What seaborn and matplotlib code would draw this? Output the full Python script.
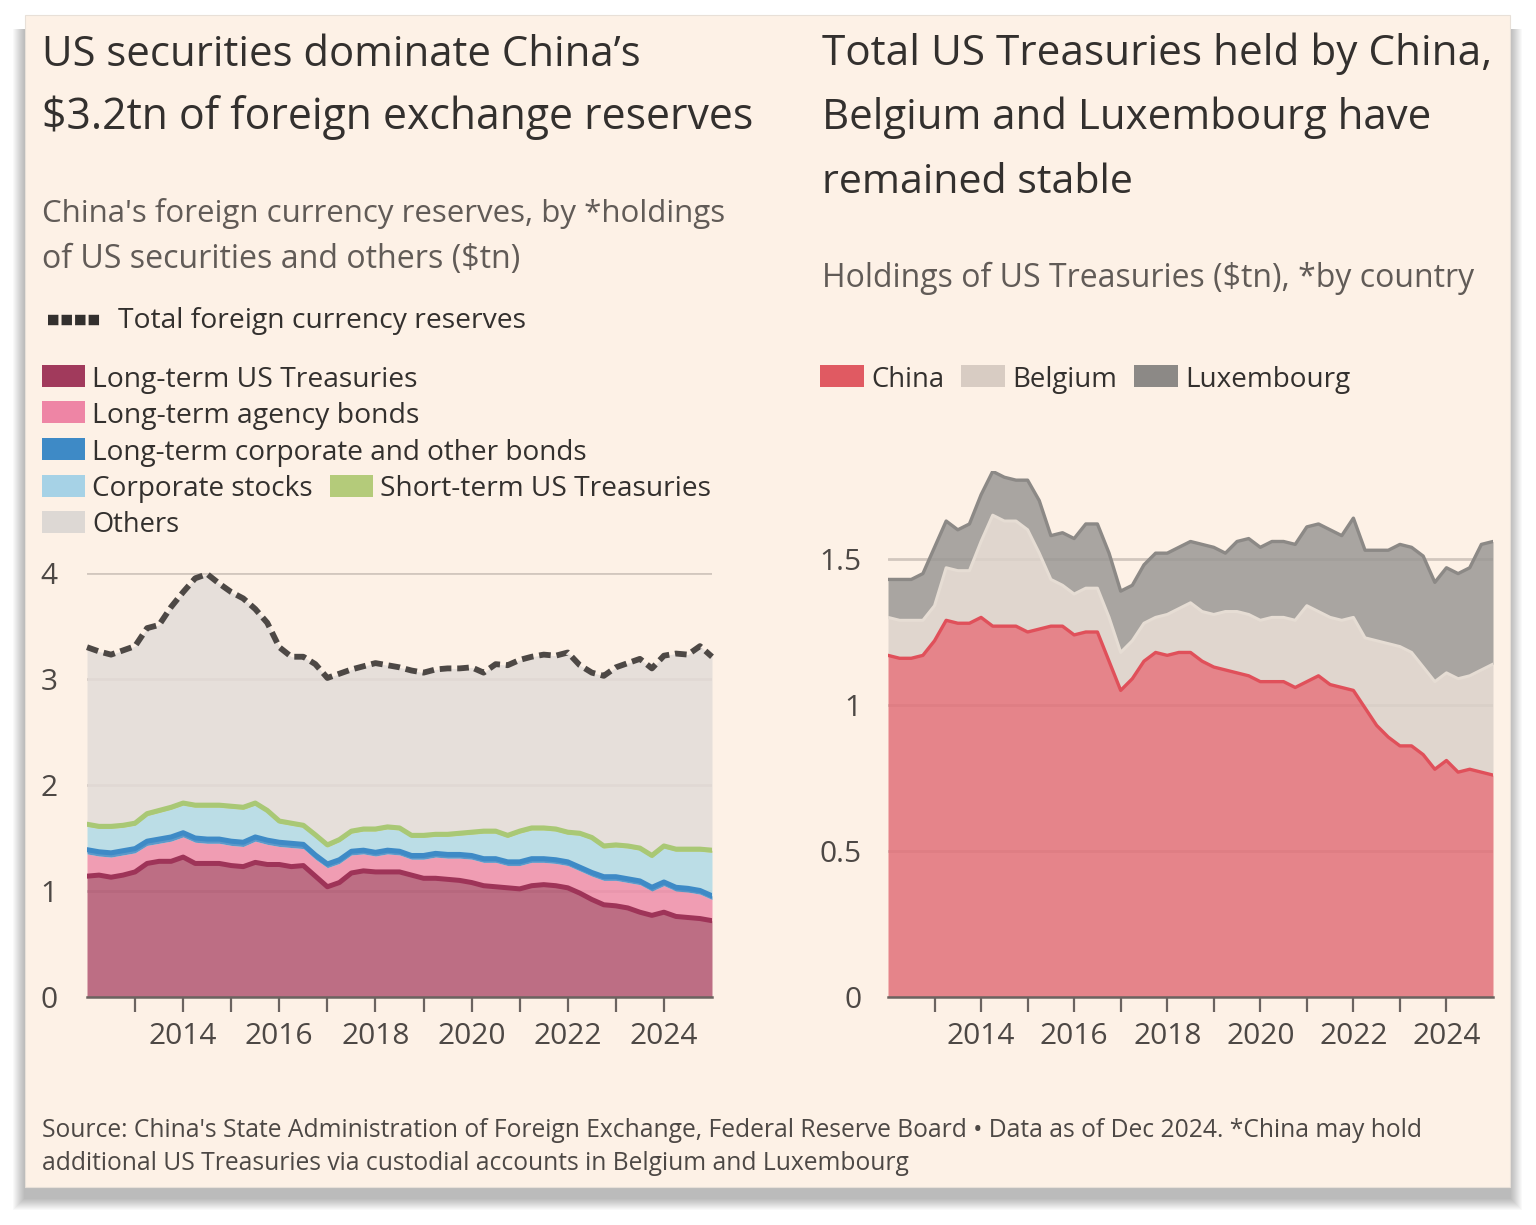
import numpy as np
import pandas as pd
import seaborn as sns
import matplotlib.pyplot as plt
from matplotlib.patches import Rectangle
from matplotlib.lines import Line2D

# quarterly time axis, decimal years
years = np.arange(2012, 2025.001, 0.25)

# left chart: China's FX reserves ($tn)
total_reserves = [3.30, 3.26, 3.23, 3.27, 3.31, 3.48, 3.51, 3.68, 3.82, 3.95, 3.99, 3.90,
                  3.82, 3.76, 3.66, 3.53, 3.30, 3.21, 3.21, 3.14, 3.01, 3.05, 3.09, 3.12,
                  3.15, 3.13, 3.11, 3.08, 3.06, 3.09, 3.10, 3.10, 3.11, 3.06, 3.14, 3.13,
                  3.18, 3.21, 3.23, 3.22, 3.25, 3.13, 3.06, 3.03, 3.11, 3.15, 3.19, 3.10,
                  3.22, 3.24, 3.23, 3.31, 3.21]
lt_treasuries = [1.14, 1.15, 1.13, 1.15, 1.18, 1.26, 1.28, 1.28, 1.32, 1.26, 1.26, 1.26,
                 1.24, 1.23, 1.27, 1.25, 1.25, 1.23, 1.24, 1.14, 1.04, 1.08, 1.17, 1.19,
                 1.18, 1.18, 1.18, 1.15, 1.12, 1.12, 1.11, 1.10, 1.08, 1.05, 1.04, 1.03,
                 1.02, 1.05, 1.06, 1.05, 1.03, 0.98, 0.92, 0.87, 0.86, 0.84, 0.80, 0.77,
                 0.80, 0.76, 0.75, 0.74, 0.72]
lt_agency = [0.21, 0.18, 0.19, 0.19, 0.18, 0.17, 0.17, 0.19, 0.19, 0.20, 0.19, 0.19,
             0.19, 0.19, 0.20, 0.19, 0.17, 0.18, 0.16, 0.16, 0.18, 0.18, 0.17, 0.16,
             0.15, 0.17, 0.16, 0.15, 0.18, 0.20, 0.20, 0.21, 0.22, 0.22, 0.23, 0.21,
             0.22, 0.22, 0.21, 0.21, 0.21, 0.21, 0.22, 0.23, 0.24, 0.24, 0.26, 0.23,
             0.25, 0.24, 0.24, 0.23, 0.20]
lt_corporate = [0.04, 0.04, 0.04, 0.04, 0.04, 0.04, 0.04, 0.04, 0.04, 0.04, 0.04, 0.04,
                0.04, 0.04, 0.04, 0.04, 0.04, 0.04, 0.04, 0.04, 0.035, 0.035, 0.035, 0.035,
                0.035, 0.035, 0.035, 0.035, 0.035, 0.035, 0.035, 0.035, 0.035, 0.035, 0.035, 0.035,
                0.035, 0.035, 0.035, 0.035, 0.035, 0.035, 0.035, 0.035, 0.035, 0.035, 0.035, 0.035,
                0.035, 0.035, 0.035, 0.035, 0.035]
corp_stocks = [0.22, 0.22, 0.23, 0.22, 0.22, 0.24, 0.25, 0.26, 0.26, 0.29, 0.30, 0.30,
               0.31, 0.31, 0.30, 0.26, 0.18, 0.17, 0.16, 0.17, 0.16, 0.17, 0.17, 0.18,
               0.20, 0.20, 0.20, 0.17, 0.17, 0.16, 0.17, 0.18, 0.20, 0.24, 0.24, 0.23,
               0.27, 0.27, 0.27, 0.27, 0.26, 0.30, 0.31, 0.27, 0.28, 0.29, 0.29, 0.28,
               0.32, 0.34, 0.35, 0.37, 0.41]
st_treasuries = [0.02, 0.02, 0.02, 0.02, 0.02, 0.02, 0.02, 0.02, 0.02, 0.02, 0.02, 0.02,
                 0.02, 0.02, 0.02, 0.02, 0.02, 0.02, 0.02, 0.02, 0.02, 0.02, 0.02, 0.02,
                 0.02, 0.02, 0.02, 0.02, 0.02, 0.02, 0.02, 0.02, 0.02, 0.02, 0.02, 0.02,
                 0.02, 0.02, 0.02, 0.02, 0.02, 0.02, 0.02, 0.02, 0.02, 0.02, 0.02, 0.02,
                 0.02, 0.02, 0.02, 0.02, 0.02]

# right chart: US Treasuries by country ($tn)
china = [1.17, 1.16, 1.16, 1.17, 1.22, 1.29, 1.28, 1.28, 1.30, 1.27, 1.27, 1.27,
         1.25, 1.26, 1.27, 1.27, 1.24, 1.25, 1.25, 1.15, 1.05, 1.09, 1.15, 1.18,
         1.17, 1.18, 1.18, 1.15, 1.13, 1.12, 1.11, 1.10, 1.08, 1.08, 1.08, 1.06,
         1.08, 1.10, 1.07, 1.06, 1.05, 0.99, 0.93, 0.89, 0.86, 0.86, 0.83, 0.78,
         0.81, 0.77, 0.78, 0.77, 0.76]
belgium = [0.13, 0.13, 0.13, 0.12, 0.12, 0.18, 0.18, 0.18, 0.26, 0.38, 0.36, 0.36,
           0.35, 0.26, 0.16, 0.14, 0.14, 0.15, 0.15, 0.15, 0.13, 0.13, 0.13, 0.12,
           0.14, 0.15, 0.17, 0.17, 0.18, 0.20, 0.21, 0.21, 0.21, 0.22, 0.22, 0.23,
           0.26, 0.22, 0.23, 0.23, 0.25, 0.24, 0.29, 0.32, 0.34, 0.32, 0.30, 0.30,
           0.30, 0.32, 0.32, 0.35, 0.38]
luxembourg = [0.13, 0.14, 0.14, 0.16, 0.20, 0.16, 0.14, 0.16, 0.16, 0.15, 0.15, 0.14,
              0.17, 0.18, 0.15, 0.18, 0.19, 0.22, 0.22, 0.22, 0.21, 0.19, 0.20, 0.22,
              0.21, 0.21, 0.21, 0.23, 0.23, 0.20, 0.24, 0.26, 0.25, 0.26, 0.26, 0.26,
              0.27, 0.30, 0.30, 0.29, 0.34, 0.30, 0.31, 0.32, 0.35, 0.36, 0.38, 0.34,
              0.36, 0.36, 0.37, 0.43, 0.42]

tick_years = list(range(2013, 2025))
label_years = ['', '2014', '', '2016', '', '2018', '', '2020', '', '2022', '', '2024']

W, H = 1536, 1225
BG = '#FDF1E6'
DARK = '#33302E'
GREY = '#615B57'

sns.set_theme(style='white')
plt.rcParams['font.family'] = ['Open Sans', 'DejaVu Sans']

fig = plt.figure(figsize=(W / 100, H / 100), dpi=100, facecolor='white')
renderer = fig.canvas.get_renderer()


def fx(x):
    return x / W


def fy(y):
    return 1 - y / H


# card with soft shadow, kept behind the axes
for i in range(12):
    fig.patches.append(Rectangle((fx(24 - i), fy(1187 + 12 + i)), fx(1487 + 2 * i), (1170 + i) / H,
                                 transform=fig.transFigure, facecolor='black', alpha=0.022,
                                 edgecolor='none', zorder=-3))
fig.patches.append(Rectangle((fx(25), fy(1187)), fx(1485), 1172 / H, transform=fig.transFigure,
                             facecolor=BG, edgecolor='#E8E0D8', lw=0.8, zorder=-2))


def ftext(x, y, s, width, color=DARK):
    # text placed by its left baseline, sized to the width it takes in the reference
    t = fig.text(fx(x), fy(y), s, fontsize=20, color=color, va='baseline', ha='left')
    w = t.get_window_extent(renderer).width
    t.set_fontsize(20 * width / w)
    return t


def patch(x, y, w, h, color):
    fig.patches.append(Rectangle((fx(x), fy(y + h)), w / W, h / H, transform=fig.transFigure,
                                 facecolor=color, edgecolor='none', zorder=2))


def style_axis(ax, ymax, yticks, ylabels, ypad):
    ax.set_facecolor('none')
    ax.set_xlim(2012, 2025)
    ax.set_ylim(0, ymax)
    ax.set_xticks(tick_years)
    ax.set_xticklabels(label_years)
    ax.set_yticks(yticks)
    ax.set_yticklabels(ylabels)
    ax.set_xlabel('')
    ax.set_ylabel('')
    ax.set_axisbelow(True)
    ax.yaxis.grid(True, color='#D2C7BE', lw=2.0)
    ax.xaxis.grid(False)
    for s in ['top', 'right', 'left']:
        ax.spines[s].set_visible(False)
    ax.spines['bottom'].set_color('#6B6360')
    ax.spines['bottom'].set_linewidth(1.8)
    ax.spines['bottom'].set_zorder(5)
    ax.tick_params(axis='x', length=11, width=1.6, color='#6B6360', labelsize=21.5,
                   labelcolor='#4D4845', pad=7, bottom=True)
    ax.tick_params(axis='y', length=0, labelsize=21.5, labelcolor='#4D4845', pad=ypad)


# ---------------- left chart ----------------
axl = fig.add_axes([fx(87), fy(997), (712 - 87) / W, (997 - 573) / H])
left_parts = [lt_treasuries, lt_agency, lt_corporate, corp_stocks, st_treasuries]
left_fill = ['#B25773', '#EE8EAA', '#3E8AC6', '#B0DAE6', '#A9C875']
cum = np.cumsum(np.array(left_parts), axis=0)
lower = np.zeros(len(years))
for top, col in zip(cum, left_fill):
    axl.fill_between(years, lower, top, color=col, alpha=0.85, lw=0, zorder=1)
    lower = top
axl.fill_between(years, cum[-1], total_reserves, color='#E3DCD8', alpha=0.85, lw=0, zorder=1)

left_df = pd.DataFrame({'year': years, 'ust': cum[0], 'corp': cum[2], 'st': cum[4],
                        'total': total_reserves})
sns.lineplot(data=left_df, x='year', y='ust', ax=axl, color='#9E3458', lw=3.6, zorder=3)
sns.lineplot(data=left_df, x='year', y='corp', ax=axl, color='#3E8AC6', lw=3.6, zorder=3)
sns.lineplot(data=left_df, x='year', y='st', ax=axl, color='#A9C875', lw=3.6, zorder=3)
sns.lineplot(data=left_df, x='year', y='total', ax=axl, color='#4D4845', lw=4.2, zorder=4,
             linestyle=(0, (2.0, 1.0)), clip_on=False)
style_axis(axl, 4, [0, 1, 2, 3, 4], ['0', '1', '2', '3', '4'], 21)

# ---------------- right chart ----------------
axr = fig.add_axes([fx(888), fy(997), (1493 - 888) / W, (997 - 471.4) / H])
right_parts = [china, belgium, luxembourg]
right_fill = ['#E1717A', '#DBD2CA', '#9A9895']
cum_r = np.cumsum(np.array(right_parts), axis=0)
lower = np.zeros(len(years))
for top, col in zip(cum_r, right_fill):
    axr.fill_between(years, lower, top, color=col, alpha=0.85, lw=0, zorder=1)
    lower = top

right_df = pd.DataFrame({'year': years, 'china': cum_r[0], 'belgium': cum_r[1],
                         'lux': cum_r[2]})
sns.lineplot(data=right_df, x='year', y='belgium', ax=axr, color='#E6DDD4', lw=2.2, zorder=3)
sns.lineplot(data=right_df, x='year', y='lux', ax=axr, color='#8C8986', lw=2.4, zorder=3)
sns.lineplot(data=right_df, x='year', y='china', ax=axr, color='#E0505A', lw=2.4, zorder=3)
style_axis(axr, 1.8, [0, 0.5, 1, 1.5], ['0', '0.5', '1', '1.5'], 19)

# ---------------- texts ----------------
ftext(42, 66, 'US securities dominate China\u2019s', 597)
ftext(42, 129, '$3.2tn of foreign exchange reserves', 709)
ftext(42, 222, "China's foreign currency reserves, by *holdings", 683, GREY)
ftext(42, 268, "of US securities and others ($tn)", 478, GREY)

fig.add_artist(Line2D([fx(48), fx(100)], [fy(320), fy(320)], color='#33302E', lw=7.5,
                      linestyle=(0, (1.0, 0.3)), transform=fig.transFigure))
ftext(118, 328, 'Total foreign currency reserves', 407)

left_legend = [
    (42, 365, '#A13A5C', 'Long-term US Treasuries', 325),
    (42, 401.5, '#EE85A5', 'Long-term agency bonds', 327),
    (42, 438, '#3E8AC6', 'Long-term corporate and other bonds', 495),
    (42, 474.5, '#A6D2E6', 'Corporate stocks', 220),
    (330, 474.5, '#B4CB7A', 'Short-term US Treasuries', 330),
    (42, 511, '#DDD8D4', 'Others', 87),
]
for x, y, col, lab, w in left_legend:
    patch(x, y, 43, 22, col)
    ftext(x + 50, y + 21.5, lab, w)

ftext(822, 65, 'Total US Treasuries held by China,', 668)
ftext(822, 129, 'Belgium and Luxembourg have', 608)
ftext(822, 193, 'remained stable', 310)
ftext(822, 287, 'Holdings of US Treasuries ($tn), *by country', 650, GREY)

right_legend = [
    (820, '#E05A62', 'China', 73),
    (961, '#D8CCC3', 'Belgium', 105),
    (1134, '#8C8986', 'Luxembourg', 165),
]
for x, col, lab, w in right_legend:
    patch(x, 365, 44, 22, col)
    ftext(x + 51, 387, lab, w)

ftext(42, 1137, "Source: China's State Administration of Foreign Exchange, Federal Reserve Board "
      "\u2022 Data as of Dec 2024. *China may hold", 1378, '#4D4845')
ftext(42, 1170, 'additional US Treasuries via custodial accounts in Belgium and Luxembourg',
      865, '#4D4845')

fig.savefig('out.png', dpi=100, facecolor='white')
